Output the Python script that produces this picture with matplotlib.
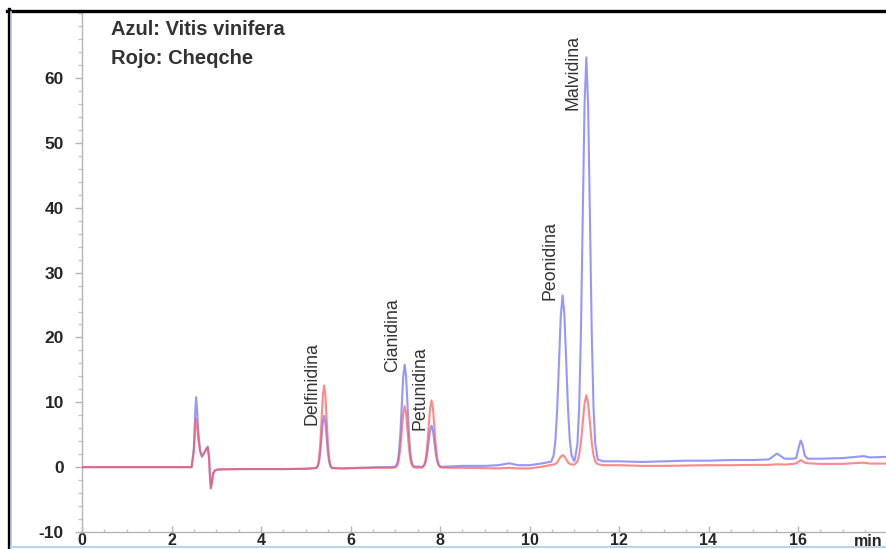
import matplotlib
matplotlib.use("Agg")
import matplotlib.pyplot as plt
from matplotlib.lines import Line2D
from matplotlib.ticker import MultipleLocator

plt.rcParams["axes.unicode_minus"] = False

# ---------------- data ----------------
time_min = [
    0.0, 1.0, 2.0, 2.40, 2.45, 2.50, 2.53, 2.55, 2.57, 2.60, 2.64, 2.68, 2.72, 2.77, 2.81,
    2.84, 2.86, 2.88, 2.90, 2.93, 2.97, 3.05, 3.5, 4.0, 4.5, 5.0,
    # Delfinidina
    5.234, 5.2725, 5.30, 5.3275, 5.355, 5.3825, 5.41, 5.4375, 5.465, 5.4925, 5.52, 5.5475, 5.586,
    5.8, 6.2, 6.6, 6.9,
    # Cianidina
    7.005, 7.05, 7.082, 7.114, 7.146, 7.178, 7.21, 7.242, 7.274, 7.306, 7.338, 7.37, 7.415,
    7.5,
    # Petunidina
    7.605, 7.65, 7.682, 7.714, 7.746, 7.778, 7.81, 7.842, 7.874, 7.906, 7.938, 7.97, 8.015,
    8.2, 8.5, 9.0, 9.3, 9.55, 9.75, 10.0, 10.3,
    # Peonidina
    10.484, 10.54, 10.58, 10.62, 10.66, 10.70, 10.74, 10.78, 10.82, 10.86, 10.90, 10.94, 10.996,
    # Malvidina
    11.014, 11.07, 11.11, 11.15, 11.19, 11.23, 11.27, 11.31, 11.35, 11.39, 11.43, 11.47, 11.526,
    11.65, 12.0, 12.5, 13.0, 13.5, 14.0, 14.5, 15.0, 15.35, 15.53, 15.7, 15.9,
    15.96, 16.0, 16.06, 16.1, 16.15, 16.22, 16.5, 17.0, 17.47, 17.6, 18.0,
]

vitis_vinifera = [  # blue trace (mAU)
    0.0, 0.0, 0.0, 0.0, 0.0, 3.0, 8.5, 10.8, 9.0, 5.5, 2.5, 1.6, 2.0, 2.8, 3.2,
    1.5, -1.5, -3.3, -2.5, -1.0, -0.5, -0.35, -0.3, -0.3, -0.3, -0.25,
    -0.15, 0.16, 0.90, 2.43, 4.71, 6.95, 7.90, 6.95, 4.71, 2.43, 0.90, 0.16, -0.15,
    -0.2, -0.1, 0.0, 0.0,
    0.09, 0.69, 2.14, 5.13, 9.58, 13.94, 15.8, 13.94, 9.58, 5.13, 2.14, 0.69, 0.09,
    0.1,
    0.04, 0.28, 0.87, 2.08, 3.88, 5.65, 6.4, 5.65, 3.88, 2.08, 0.87, 0.28, 0.04,
    0.1, 0.2, 0.2, 0.3, 0.6, 0.3, 0.3, 0.6,
    0.85, 1.83, 4.19, 9.08, 16.35, 23.47, 26.5, 23.47, 16.35, 9.08, 4.19, 1.83, 0.95,
    1.17, 3.54, 9.24, 21.06, 38.65, 55.87, 63.2, 55.87, 38.65, 21.06, 9.24, 3.54, 1.17,
    0.9, 0.9, 0.8, 0.9, 1.0, 1.0, 1.1, 1.1, 1.2, 2.1, 1.3, 1.3,
    1.4, 2.6, 4.1, 3.5, 1.8, 1.3, 1.3, 1.4, 1.7, 1.5, 1.6,
]

cheqche = [  # red trace (mAU)
    0.0, 0.0, 0.0, 0.0, 0.0, 2.5, 6.3, 7.5, 6.4, 4.2, 2.4, 1.7, 2.1, 2.6, 3.0,
    1.4, -1.5, -3.1, -2.4, -1.0, -0.5, -0.35, -0.3, -0.3, -0.3, -0.25,
    -0.12, 0.36, 1.53, 3.96, 7.56, 11.10, 12.60, 11.10, 7.56, 3.96, 1.53, 0.36, -0.12,
    -0.2, -0.15, -0.1, -0.1,
    -0.04, 0.32, 1.19, 2.98, 5.66, 8.28, 9.4, 8.28, 5.66, 2.98, 1.19, 0.32, -0.04,
    -0.1,
    -0.04, 0.36, 1.31, 3.28, 6.21, 9.08, 10.3, 9.08, 6.21, 3.28, 1.31, 0.36, -0.04,
    -0.1, -0.1, -0.15, -0.2, -0.1, -0.2, -0.2, 0.1,
    0.35, 0.40, 0.50, 0.75, 1.20, 1.65, 1.85, 1.65, 1.20, 0.75, 0.50, 0.40, 0.38,
    0.46, 0.87, 1.85, 3.87, 6.89, 9.84, 11.1, 9.84, 6.89, 3.87, 1.85, 0.87, 0.46,
    0.3, 0.3, 0.2, 0.2, 0.25, 0.3, 0.3, 0.35, 0.35, 0.45, 0.4, 0.5,
    0.6, 0.8, 1.1, 0.9, 0.7, 0.6, 0.5, 0.5, 0.7, 0.55, 0.55,
]

peak_names = ["Delfinidina", "Cianidina", "Petunidina", "Peonidina", "Malvidina"]
label_x = [5.13, 6.95, 7.55, 10.45, 10.97]
label_y = [6.5, 14.7, 5.7, 25.8, 55.1]

y_ticks = [-10, 0, 10, 20, 30, 40, 50, 60]
x_ticks = [0, 2, 4, 6, 8, 10, 12, 14, 16]

# ---------------- figure ----------------
W, H = 886, 549
fig = plt.figure(figsize=(W / 100, H / 100), dpi=100)
fig.patch.set_facecolor("white")

ax = fig.add_axes([82 / W, (H - 532) / H, (W - 82) / W, (532 - 10) / H])
ax.set_facecolor("white")

ax.plot(time_min, vitis_vinifera, color="#7373ff", lw=1.5, alpha=0.75, zorder=3)
ax.plot(time_min, cheqche, color="#ff5656", lw=1.5, alpha=0.7, zorder=4)

ax.set_xlim(0, (W - 82) / 44.75)
ax.set_ylim(-10, 70.5)

for s in ["top", "right"]:
    ax.spines[s].set_visible(False)
for s in ["left", "bottom"]:
    ax.spines[s].set_color("#b5b5b5")
    ax.spines[s].set_linewidth(1.0)

ax.set_yticks(y_ticks)
ax.set_xticks(x_ticks)
ax.yaxis.set_minor_locator(MultipleLocator(2))
ax.xaxis.set_minor_locator(MultipleLocator(0.5))
ax.tick_params(axis="y", which="major", direction="out", length=5, width=1,
               color="#b5b5b5", pad=8)
ax.tick_params(axis="y", which="minor", direction="out", length=3, width=1,
               color="#c5c5c5")
ax.tick_params(axis="x", which="major", direction="in", length=4, width=1,
               color="#b5b5b5", pad=1)
ax.tick_params(axis="x", which="minor", direction="in", length=2.5, width=1,
               color="#c5c5c5")
for lab in ax.get_yticklabels():
    lab.set_fontfamily("Liberation Sans")
    lab.set_fontweight("bold")
    lab.set_fontsize(12.5)
    lab.set_color("#262626")
for lab in ax.get_xticklabels():
    lab.set_fontfamily("Liberation Sans")
    lab.set_fontweight("bold")
    lab.set_fontsize(11.5)
    lab.set_color("#262626")

for name, lx, ly in zip(peak_names, label_x, label_y):
    ax.text(lx, ly, name, rotation=90, ha="center", va="bottom",
            fontsize=12.8, color="#333333", family="Liberation Sans", zorder=5)

fig.text(111 / W, 1 - 35 / H, "Azul: Vitis vinifera", ha="left", va="baseline",
         fontsize=14.5, fontweight="bold", color="#333333", family="Liberation Sans")
fig.text(111 / W, 1 - 64 / H, "Rojo: Cheqche", ha="left", va="baseline",
         fontsize=14.5, fontweight="bold", color="#333333", family="Liberation Sans")
fig.text(868 / W, 1 - 542 / H, "min", ha="center", va="center",
         fontsize=11.5, fontweight="bold", color="#262626", family="Liberation Sans")

# outer frame (black top/left border, light blue inner edge)
fig.add_artist(Line2D([8.5 / W, 8.5 / W], [0, 1 - 9 / H], transform=fig.transFigure,
                      color="black", lw=2.4))
fig.add_artist(Line2D([7 / W, 1], [1 - 10.5 / H, 1 - 10.5 / H], transform=fig.transFigure,
                      color="black", lw=2.4))
fig.add_artist(Line2D([11 / W, 11 / W], [0, 1 - 12 / H], transform=fig.transFigure,
                      color="#bcd3ee", lw=1.2))
fig.add_artist(Line2D([11 / W, 1], [2.5 / H, 2.5 / H], transform=fig.transFigure,
                      color="#bcd3ee", lw=1.5))

fig.savefig("out.png", dpi=100, facecolor="white")
